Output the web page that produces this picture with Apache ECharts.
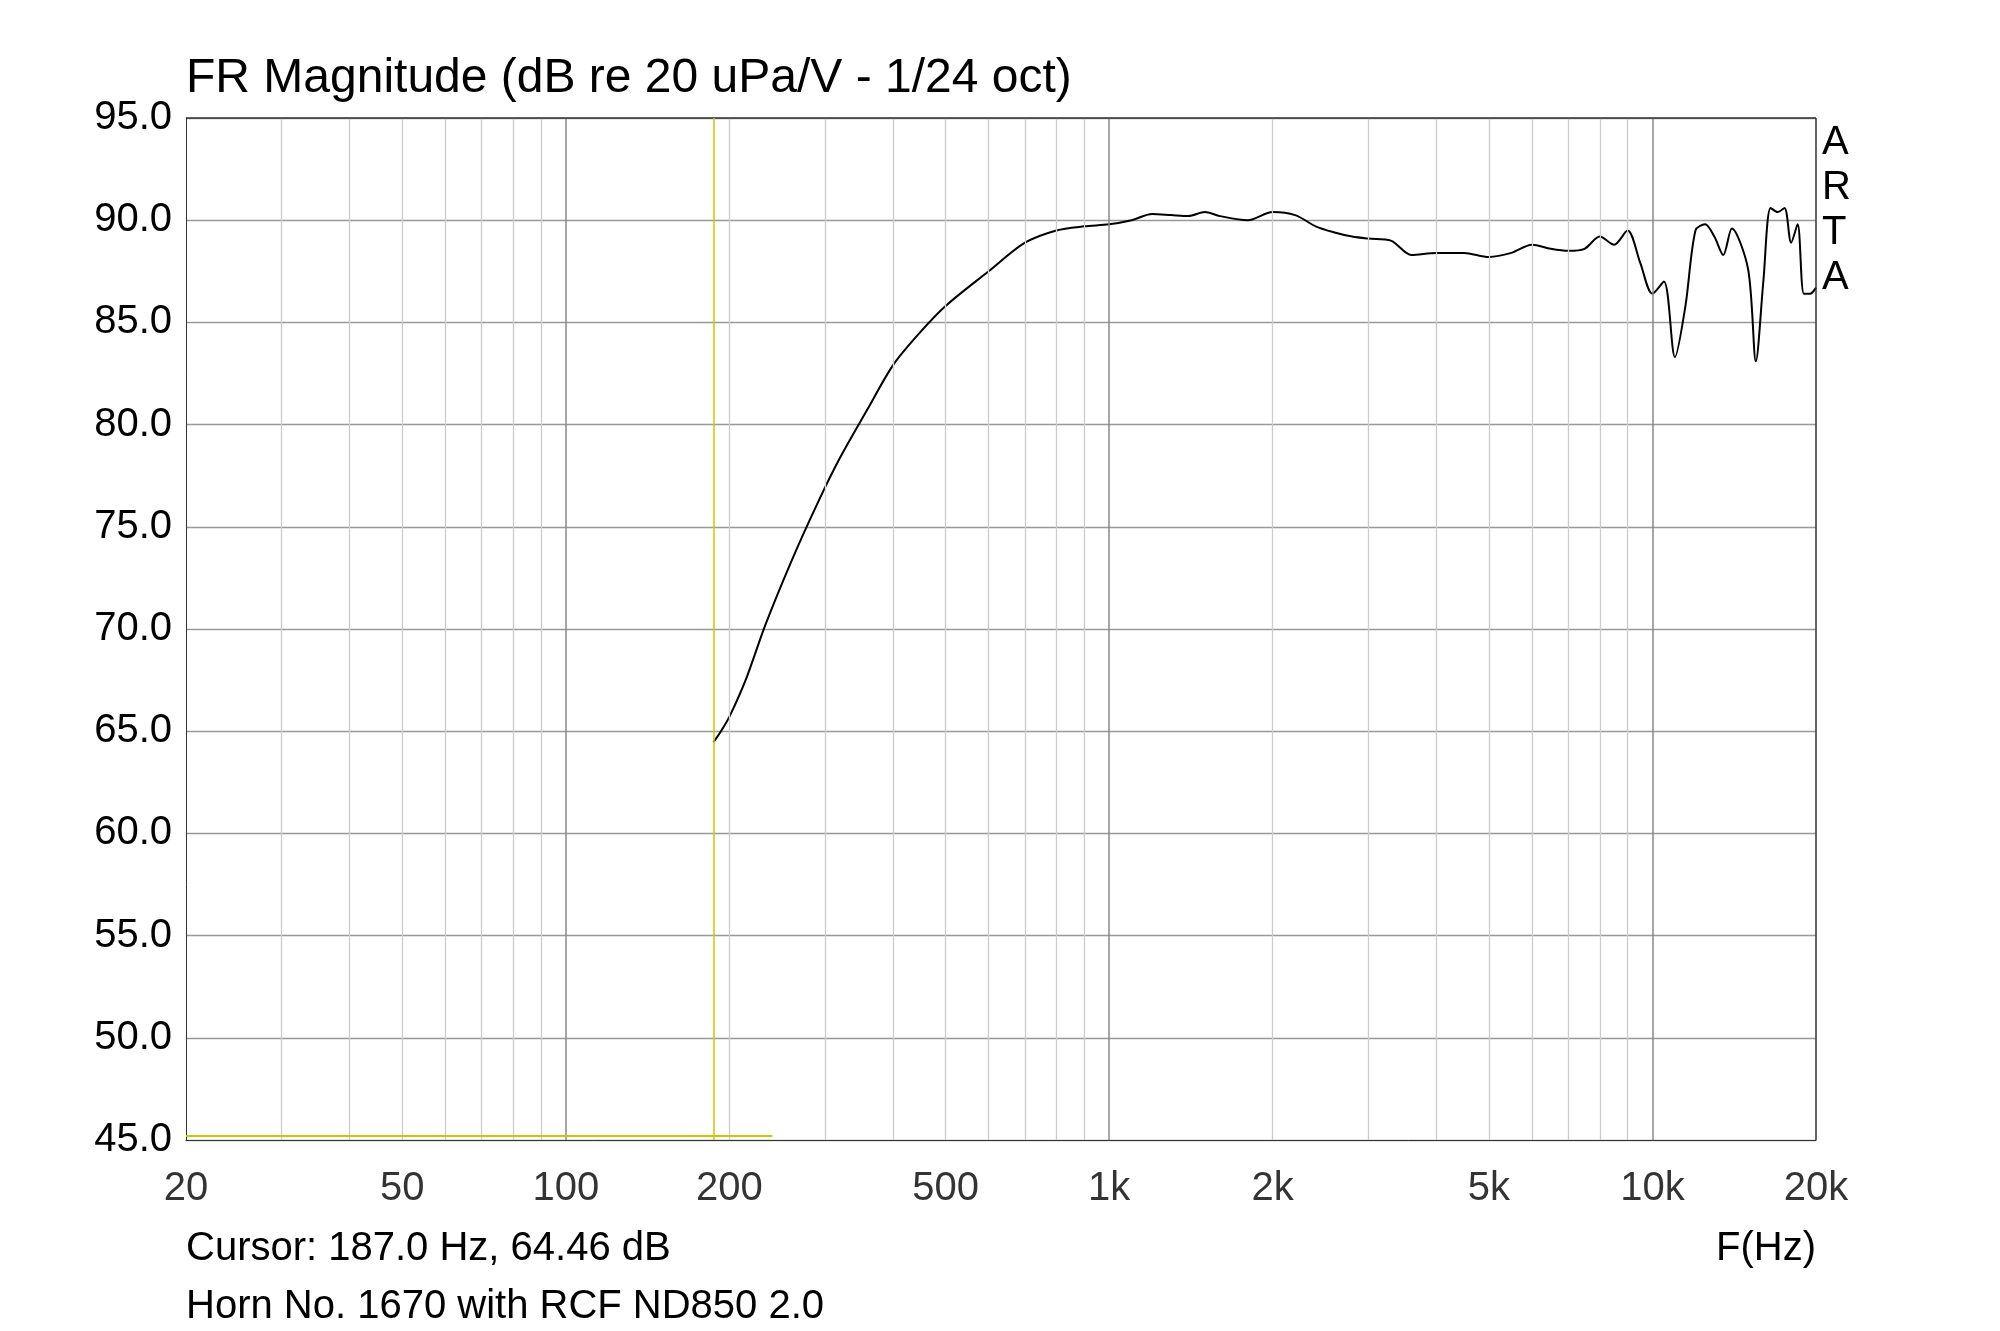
<!DOCTYPE html><html><head><meta charset="utf-8"><script src="https://cdn.jsdelivr.net/npm/echarts@6/dist/echarts.min.js"></script>
<style>html,body{margin:0;background:#fff}#c{width:2000px;height:1331px}</style></head><body><div id="c"></div><script>
const freqs=[187,193,200,215,233,260,290,320,360,400,445,500,600,700,800,900,1000,1100,1200,1300,1400,1500,1600,1800,2000,2200,2400,2600,2800,3000,3300,3600,4000,4500,5000,5500,6000,6500,7000,7500,8000,8500,9000,9500,10000,10500,11000,11500,12000,12500,13000,13500,14000,15000,15500,16000,16500,17000,17500,18000,18500,19000,19500,20000];
const dB=[64.46,65.0,65.7,67.6,70.2,73.3,76.1,78.4,80.8,82.9,84.4,85.8,87.5,88.9,89.5,89.7,89.8,90.0,90.3,90.25,90.2,90.4,90.2,90.0,90.4,90.25,89.7,89.4,89.2,89.1,89.0,88.3,88.4,88.4,88.2,88.4,88.8,88.6,88.5,88.6,89.2,88.8,89.5,87.9,86.4,87.0,83.3,85.8,89.5,89.8,89.2,88.3,89.6,87.6,83.1,87.0,90.6,90.4,90.6,88.9,89.8,86.4,86.4,86.7];
const tickValues=[20,50,100,200,500,1000,2000,5000,10000,20000];
const tickLabels=['20','50','100','200','500','1k','2k','5k','10k','20k'];
const majorLines=[100,1000,10000];
const minorLines=[30,40,50,60,70,80,90,200,300,400,500,600,700,800,900,2000,3000,4000,5000,6000,7000,8000,9000];
const cursorF=187, cursorDB=64.46;
const F='Arial, "Liberation Sans", sans-serif';
const ch=echarts.init(document.getElementById('c'));
ch.setOption({animation:false,
grid:{left:186,right:184,top:118,bottom:191},
xAxis:{type:'log',logBase:10,min:20,max:20000,axisLabel:{show:false},axisTick:{show:false},splitLine:{show:false},axisLine:{lineStyle:{color:'#333'}}},
yAxis:{type:'value',min:45,max:95,interval:5,axisLabel:{fontFamily:F,fontSize:40,color:'#000',margin:14,formatter:v=>v.toFixed(1)},axisTick:{show:false},axisLine:{show:true,lineStyle:{color:'#333'}},splitLine:{lineStyle:{color:'#999',width:1.3}}},
graphic:[
{type:'text',left:186,top:55,style:{text:'FR Magnitude (dB re 20 uPa/V - 1/24 oct)',font:'48px '+F,fill:'#000'}},
{type:'text',left:1822,top:120,style:{text:'A\nR\nT\nA',font:'40px '+F,fill:'#000',lineHeight:45}},
{type:'text',left:186,top:1229,style:{text:'Cursor: 187.0 Hz, 64.46 dB',font:'40px '+F,fill:'#000'}},
{type:'text',right:184,top:1229,style:{text:'F(Hz)',font:'40px '+F,fill:'#000'}},
{type:'text',left:186,top:1287,style:{text:'Horn No. 1670 with RCF ND850 2.0',font:'40px '+F,fill:'#000'}}
],
series:[
{type:'line',data:[],markLine:{silent:true,symbol:'none',label:{show:false},data:[
...minorLines.map(v=>({xAxis:v,lineStyle:{color:'#ccc',width:1.3,type:'solid'}})),
...majorLines.map(v=>({xAxis:v,lineStyle:{color:'#888',width:1.5,type:'solid'}})),
{xAxis:20000,lineStyle:{color:'#333',width:1.5,type:'solid'}},
{yAxis:95,lineStyle:{color:'#333',width:1.5,type:'solid'}},
{xAxis:cursorF,lineStyle:{color:'#c8c800',width:1.5,type:'solid'}},
[{coord:[20,45.2],lineStyle:{color:'#c8c800',width:2,type:'solid'}},{coord:[240,45.2]}]
]}},
{type:'scatter',data:tickValues.map((v,i)=>[v,45,tickLabels[i]]),symbolSize:0,silent:true,label:{show:true,position:'bottom',distance:29,formatter:p=>p.data[2],fontFamily:F,fontSize:40,color:'#000'}},
{type:'line',data:freqs.map((f,i)=>[f,dB[i]]),smooth:0.3,showSymbol:false,lineStyle:{color:'#000',width:2}}
]});
</script></body></html>
